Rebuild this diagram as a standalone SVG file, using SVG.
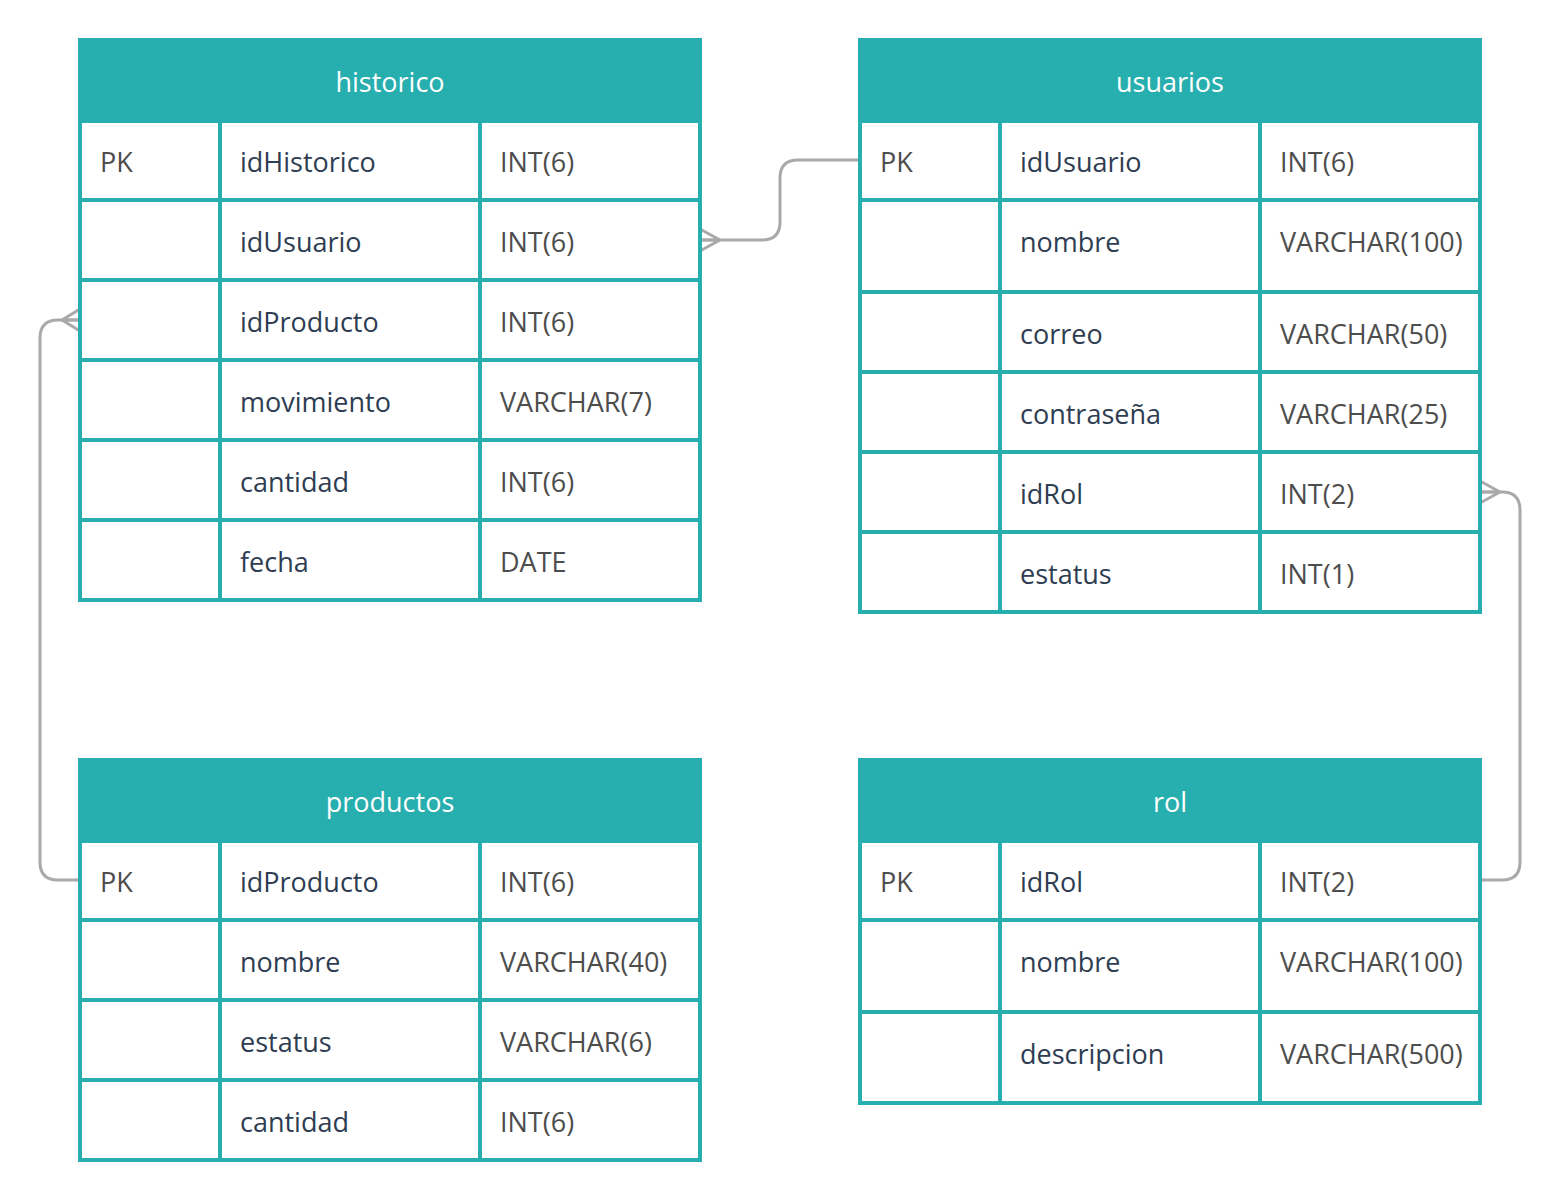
<svg xmlns="http://www.w3.org/2000/svg" width="1560" height="1201" viewBox="0 0 1560 1201">
<style>
.hd{fill:#27aeae}
.bd{fill:#fff;stroke:#27aeae;stroke-width:4}
.ln{stroke:#27aeae;stroke-width:4}
.t{font-family:"Open Sans","Liberation Sans",sans-serif;font-size:27px}
.h{fill:#fff;text-anchor:middle}
.k{fill:#4d4d4d}
.n{fill:#2e3d52}
.ty{fill:#4d4d4d}
.c{fill:none;stroke:#a9a9a9;stroke-width:3;stroke-linecap:round;stroke-linejoin:round}
</style>
<rect width="1560" height="1201" fill="#fff"/>
<g id="connectors">
<path class="c" d="M860 160 H798 Q780 160 780 178 V222 Q780 240 762 240 H700"/>
<path class="c" d="M720 240 L700 229 M720 240 L700 240 M720 240 L700 251"/>
<path class="c" d="M80 880 H58 Q40 880 40 862 V338 Q40 320 58 320 H80"/>
<path class="c" d="M62 320 L80 309 M62 320 L80 320 M62 320 L80 331"/>
<path class="c" d="M1480 880 H1502 Q1520 880 1520 862 V510 Q1520 492 1502 492 H1480"/>
<path class="c" d="M1500 492 L1480 481 M1500 492 L1480 492 M1500 492 L1480 503"/>
</g>
<g id="historico">
<rect class="bd" x="80" y="121" width="620" height="479"/>
<rect class="hd" x="78" y="38" width="624" height="84"/>
<path class="ln" d="M220 121 V600 M480 121 V600 M80 200 H700 M80 280 H700 M80 360 H700 M80 440 H700 M80 520 H700"/>
<text class="t h" x="390" y="92">historico</text>
<text class="t k" x="100" y="172">PK</text>
<text class="t n" x="240" y="172">idHistorico</text>
<text class="t ty" x="500" y="172">INT(6)</text>
<text class="t n" x="240" y="252">idUsuario</text>
<text class="t ty" x="500" y="252">INT(6)</text>
<text class="t n" x="240" y="332">idProducto</text>
<text class="t ty" x="500" y="332">INT(6)</text>
<text class="t n" x="240" y="412">movimiento</text>
<text class="t ty" x="500" y="412">VARCHAR(7)</text>
<text class="t n" x="240" y="492">cantidad</text>
<text class="t ty" x="500" y="492">INT(6)</text>
<text class="t n" x="240" y="572">fecha</text>
<text class="t ty" x="500" y="572">DATE</text>
</g>
<g id="usuarios">
<rect class="bd" x="860" y="121" width="620" height="491"/>
<rect class="hd" x="858" y="38" width="624" height="84"/>
<path class="ln" d="M1000 121 V612 M1260 121 V612 M860 200 H1480 M860 292 H1480 M860 372 H1480 M860 452 H1480 M860 532 H1480"/>
<text class="t h" x="1170" y="92">usuarios</text>
<text class="t k" x="880" y="172">PK</text>
<text class="t n" x="1020" y="172">idUsuario</text>
<text class="t ty" x="1280" y="172">INT(6)</text>
<text class="t n" x="1020" y="252">nombre</text>
<text class="t ty" x="1280" y="252">VARCHAR(100)</text>
<text class="t n" x="1020" y="344">correo</text>
<text class="t ty" x="1280" y="344">VARCHAR(50)</text>
<text class="t n" x="1020" y="424">contraseña</text>
<text class="t ty" x="1280" y="424">VARCHAR(25)</text>
<text class="t n" x="1020" y="504">idRol</text>
<text class="t ty" x="1280" y="504">INT(2)</text>
<text class="t n" x="1020" y="584">estatus</text>
<text class="t ty" x="1280" y="584">INT(1)</text>
</g>
<g id="productos">
<rect class="bd" x="80" y="841" width="620" height="319"/>
<rect class="hd" x="78" y="758" width="624" height="84"/>
<path class="ln" d="M220 841 V1160 M480 841 V1160 M80 920 H700 M80 1000 H700 M80 1080 H700"/>
<text class="t h" x="390" y="812">productos</text>
<text class="t k" x="100" y="892">PK</text>
<text class="t n" x="240" y="892">idProducto</text>
<text class="t ty" x="500" y="892">INT(6)</text>
<text class="t n" x="240" y="972">nombre</text>
<text class="t ty" x="500" y="972">VARCHAR(40)</text>
<text class="t n" x="240" y="1052">estatus</text>
<text class="t ty" x="500" y="1052">VARCHAR(6)</text>
<text class="t n" x="240" y="1132">cantidad</text>
<text class="t ty" x="500" y="1132">INT(6)</text>
</g>
<g id="rol">
<rect class="bd" x="860" y="841" width="620" height="262"/>
<rect class="hd" x="858" y="758" width="624" height="84"/>
<path class="ln" d="M1000 841 V1103 M1260 841 V1103 M860 920 H1480 M860 1012 H1480"/>
<text class="t h" x="1170" y="812">rol</text>
<text class="t k" x="880" y="892">PK</text>
<text class="t n" x="1020" y="892">idRol</text>
<text class="t ty" x="1280" y="892">INT(2)</text>
<text class="t n" x="1020" y="972">nombre</text>
<text class="t ty" x="1280" y="972">VARCHAR(100)</text>
<text class="t n" x="1020" y="1064">descripcion</text>
<text class="t ty" x="1280" y="1064">VARCHAR(500)</text>
</g>
</svg>
